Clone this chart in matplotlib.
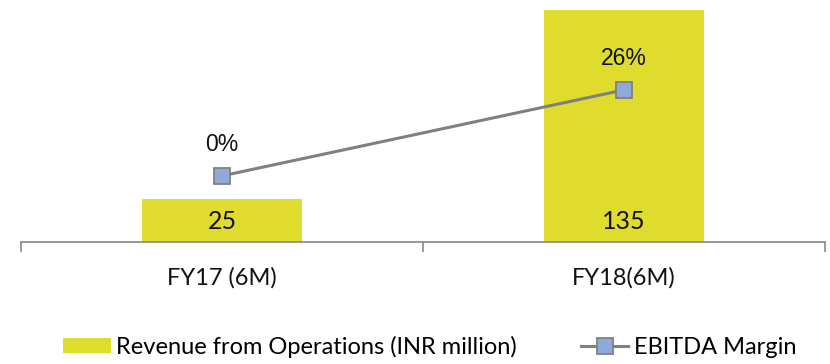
import matplotlib.pyplot as plt
from matplotlib.lines import Line2D
from matplotlib.patches import Patch

# Half-year figures
periods = ['FY17 (6M)', 'FY18(6M)']
revenue = [25, 135]          # INR million
ebitda_margin = [0, 26]      # percent

bar_color = '#E0DC2E'
line_color = '#808080'
marker_color = '#8EAADB'

fig = plt.figure(figsize=(8.3, 3.64), dpi=100)
ax = fig.add_axes([21 / 830, 1 - 242 / 364, 804 / 830, 242 / 364])

x = range(len(periods))
ax.bar(x, revenue, width=0.4, color=bar_color, zorder=1)
ax.set_xlim(-0.5, 1.5)
ax.set_ylim(0, 140.7)

for xi, v in zip(x, revenue):
    ax.text(xi, 12, str(v), ha='center', va='center', fontsize=18,
            family='Lato', color='#111111')

# axis: baseline with category separator ticks
for side in ['left', 'right', 'top']:
    ax.spines[side].set_visible(False)
ax.spines['bottom'].set_color('#888888')
ax.spines['bottom'].set_linewidth(1.2)
ax.set_yticks([])
ax.set_xticks([-0.5, 0.5, 1.5])
ax.set_xticklabels([])
ax.tick_params(axis='x', length=7, color='#888888', width=1.2)
for xi, lbl in zip(x, periods):
    ax.text(xi, -0.15, lbl, transform=ax.get_xaxis_transform(),
            ha='center', va='center', fontsize=17, family='Lato', color='#111111')

# EBITDA margin on secondary scale
ax2 = ax.twinx()
ax2.plot(x, ebitda_margin, color=line_color, linewidth=2.2, marker='s',
         markersize=12, markerfacecolor=marker_color, markeredgecolor=line_color,
         markeredgewidth=1.3, zorder=3)
ax2.set_ylim(-20, 53.2)
ax2.set_yticks([])
for side in ['left', 'right', 'top', 'bottom']:
    ax2.spines[side].set_visible(False)
for xi, m in zip(x, ebitda_margin):
    ax2.text(xi, m + 9.5, f'{m}%', ha='center', va='center', fontsize=16.5,
             family='Liberation Sans', color='#111111')

handles = [Patch(facecolor=bar_color, edgecolor='none'),
           Line2D([0], [0], color=line_color, linewidth=2.2, marker='s', markersize=12,
                  markerfacecolor=marker_color, markeredgecolor=line_color,
                  markeredgewidth=1.3)]
fig.legend(handles, ['Revenue from Operations (INR million)', 'EBITDA Margin'],
           loc='center', bbox_to_anchor=(0.518, 1 - 347 / 364), ncol=2, frameon=False,
           prop={'family': 'Lato', 'size': 17}, handlelength=2.0, handleheight=0.6,
           handletextpad=0.25, columnspacing=2.7)

fig.savefig('out.png', dpi=100)
